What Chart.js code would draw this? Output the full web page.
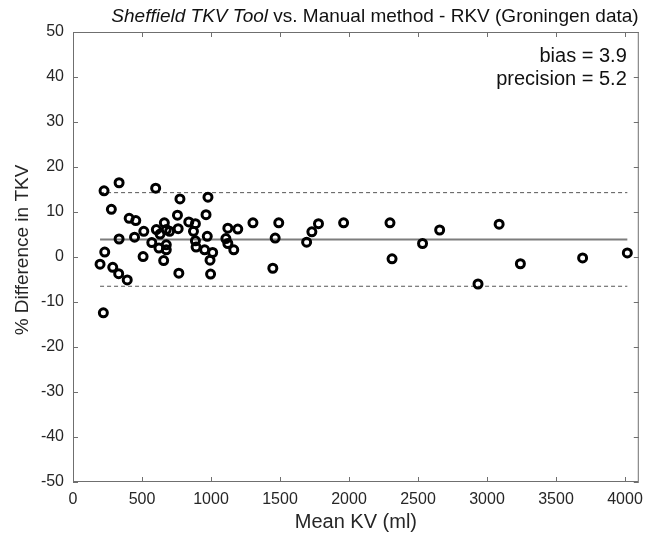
<!DOCTYPE html>
<html>
<head>
<meta charset="utf-8">
<script src="https://cdn.jsdelivr.net/npm/chart.js@4.4.1/dist/chart.umd.min.js"></script>
<style>
  html, body { margin: 0; padding: 0; background: #fff; }
  #wrap { width: 651px; height: 540px; position: relative; }
</style>
</head>
<body>
<div id="wrap"><canvas id="c" width="651" height="540"></canvas></div>
<script>
// ---- data ----
const meanKV = [225, 334, 599, 278, 775, 978, 407, 455, 757, 964, 1304, 839, 887, 662, 604, 513,
  700, 762, 676, 631, 873, 1122, 1194, 446, 334, 973, 887, 571, 1108, 1122, 676, 623, 676, 892,
  954, 1012, 1165, 230, 196, 508, 657, 993, 288, 331, 393, 767, 997, 220, 1491, 1465, 1448, 1693,
  1731, 1779, 1961, 2297, 2312, 2533, 2657, 3088, 2935, 3242, 3693, 4017];
const pctDiff = [14.7, 16.5, 15.3, 10.6, 12.9, 13.3, 8.6, 8.1, 9.3, 9.4, 7.6, 7.8, 7.4, 7.6, 6.1, 5.7,
  5.7, 6.3, 6.1, 5.1, 5.7, 6.4, 6.2, 4.4, 4.0, 4.6, 3.6, 3.2, 4.1, 3.0, 2.7, 2.0, 1.6, 2.2,
  1.6, 1.0, 1.6, 1.1, -1.6, 0.1, -0.8, -0.7, -2.3, -3.7, -5.1, -3.6, -3.8, -12.4, 7.6, 4.2, -2.5, 3.3,
  5.6, 7.4, 7.6, 7.6, -0.4, 3.0, 6.0, 7.3, -6.0, -1.5, -0.2, 0.9];
const bias = 3.9;
const precision = 5.2;
const xTicks = [0, 500, 1000, 1500, 2000, 2500, 3000, 3500, 4000];
const yTicks = [-50, -40, -30, -20, -10, 0, 10, 20, 30, 40, 50];
const xLimits = [0, 4100];
const yLimits = [-50, 50];
const titleItalic = 'Sheffield TKV Tool';
const titleRest = ' vs. Manual method - RKV (Groningen data)';
const xLabel = 'Mean KV (ml)';
const yLabel = '% Difference in TKV';
const annotLines = ['bias = 3.9', 'precision = 5.2'];

const xMin = Math.min(...meanKV), xMax = Math.max(...meanKV);
const points = meanKV.map((x, i) => ({ x: x, y: pctDiff[i] }));
const hline = v => [{ x: xMin, y: v }, { x: xMax, y: v }];

const FONT = '"Liberation Sans", Arial, Helvetica, sans-serif';
const TXT = '#262626';

const boxPlugin = {
  id: 'box',
  afterDraw(chart) {
    const { ctx, chartArea: a, scales } = chart;
    ctx.save();
    ctx.strokeStyle = '#6f6f6f';
    ctx.lineWidth = 1;
    ctx.strokeRect(a.left + 0.5, a.top + 0.5, a.right - a.left - 1, a.bottom - a.top - 1);
    const tl = 5;
    ctx.beginPath();
    scales.x.ticks.forEach(t => {
      const px = Math.round(scales.x.getPixelForValue(t.value)) + 0.5;
      ctx.moveTo(px, a.bottom); ctx.lineTo(px, a.bottom - tl);
      ctx.moveTo(px, a.top); ctx.lineTo(px, a.top + tl);
    });
    scales.y.ticks.forEach(t => {
      const py = Math.round(scales.y.getPixelForValue(t.value)) + 0.5;
      ctx.moveTo(a.left, py); ctx.lineTo(a.left + tl, py);
      ctx.moveTo(a.right, py); ctx.lineTo(a.right - tl, py);
    });
    ctx.stroke();

    // title with italic part
    ctx.fillStyle = '#111';
    ctx.textBaseline = 'middle';
    const fs = 19;
    ctx.font = 'italic ' + fs + 'px ' + FONT;
    const w1 = ctx.measureText(titleItalic).width;
    ctx.font = fs + 'px ' + FONT;
    const w2 = ctx.measureText(titleRest).width;
    const cx = 375;
    let sx = cx - (w1 + w2) / 2;
    const ty = 17;
    ctx.textAlign = 'left';
    ctx.font = 'italic ' + fs + 'px ' + FONT;
    ctx.fillText(titleItalic, sx, ty);
    ctx.font = fs + 'px ' + FONT;
    ctx.fillText(titleRest, sx + w1, ty);

    // y-axis label
    ctx.save();
    ctx.translate(23, 250);
    ctx.rotate(-Math.PI / 2);
    ctx.textAlign = 'center';
    ctx.fillStyle = TXT;
    ctx.font = '19px ' + FONT;
    ctx.fillText(yLabel, 0, 0);
    ctx.restore();

    // annotation
    ctx.textAlign = 'right';
    ctx.font = '20px ' + FONT;
    ctx.fillStyle = '#111';
    ctx.fillText(annotLines[0], a.right - 12, 56);
    ctx.fillText(annotLines[1], a.right - 12, 79);
    ctx.restore();
  }
};

new Chart(document.getElementById('c'), {
  type: 'scatter',
  data: {
    datasets: [
      {
        data: points,
        showLine: false,
        pointStyle: 'circle',
        pointRadius: 4,
        pointHoverRadius: 4,
        pointBorderWidth: 3,
        pointBorderColor: '#000',
        pointBackgroundColor: 'rgba(0,0,0,0)',
        order: 0
      },
      {
        type: 'line', data: hline(bias), borderColor: '#7d7d7d', borderWidth: 2,
        pointRadius: 0, fill: false, order: 1
      },
      {
        type: 'line', data: hline(bias + 2 * precision), borderColor: '#555', borderWidth: 1,
        borderDash: [4, 3], pointRadius: 0, fill: false, order: 1
      },
      {
        type: 'line', data: hline(bias - 2 * precision), borderColor: '#555', borderWidth: 1,
        borderDash: [4, 3], pointRadius: 0, fill: false, order: 1
      }
    ]
  },
  options: {
    responsive: false,
    animation: false,
    events: [],
    layout: { padding: { left: 0, right: 9, top: 32, bottom: 0 } },
    plugins: { legend: { display: false }, tooltip: { enabled: false }, title: { display: false } },
    scales: {
      x: {
        type: 'linear',
        min: xLimits[0], max: xLimits[1],
        afterBuildTicks: s => { s.ticks = xTicks.map(v => ({ value: v })); },
        afterFit: s => { s.height = 58; },
        grid: { display: false, drawTicks: false },
        border: { display: false },
        ticks: { color: TXT, font: { family: FONT, size: 16 }, padding: 8, maxRotation: 0, autoSkip: false,
                 callback: v => String(v) },
        title: { display: true, text: xLabel, color: TXT, font: { family: FONT, size: 20 }, padding: { top: 0, bottom: 6 } }
      },
      y: {
        type: 'linear',
        min: yLimits[0], max: yLimits[1],
        afterBuildTicks: s => { s.ticks = yTicks.map(v => ({ value: v })); },
        afterFit: s => { s.width = 73; },
        grid: { display: false, drawTicks: false },
        border: { display: false },
        ticks: { color: TXT, font: { family: FONT, size: 16 }, padding: 9, autoSkip: false,
                 callback: v => String(v) },
        title: { display: false }
      }
    }
  },
  plugins: [boxPlugin]
});
</script>
</body>
</html>
